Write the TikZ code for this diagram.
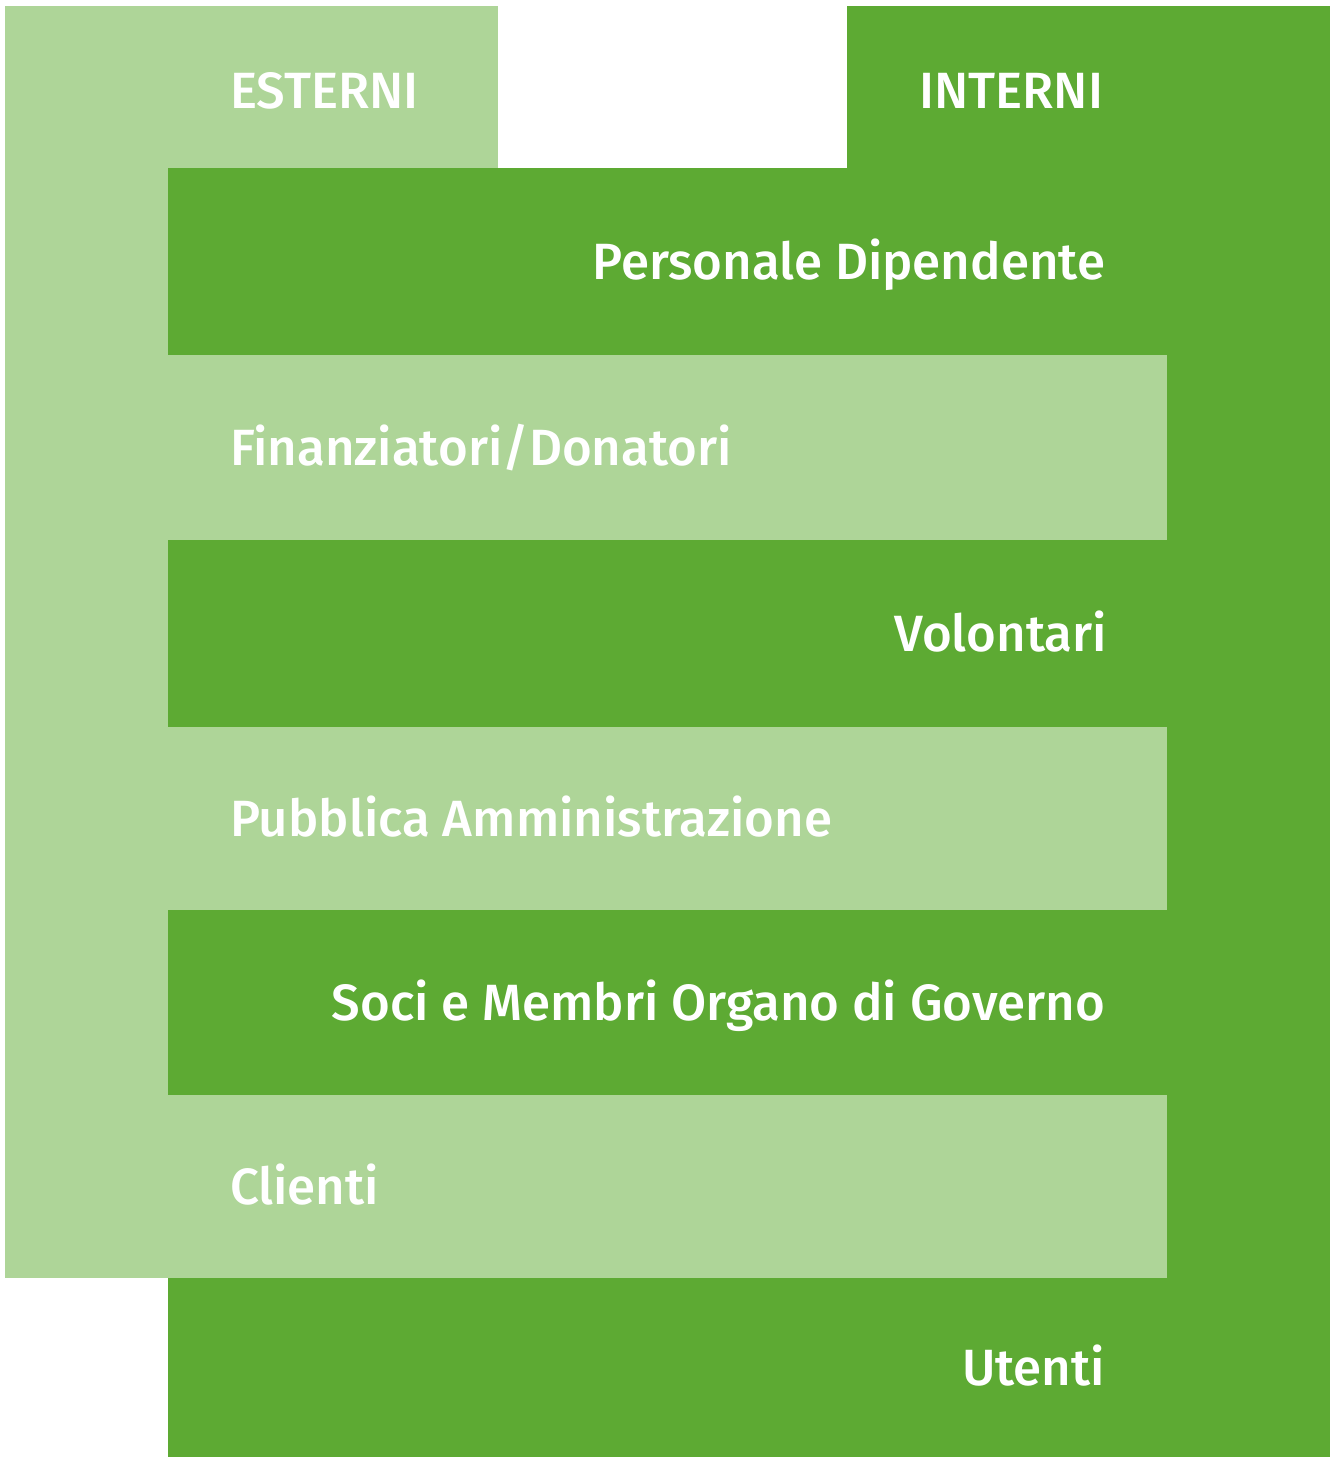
\documentclass[tikz,border=0pt]{standalone}
\usepackage{fontspec}
\setmainfont{Fira Sans}[UprightFont=* Medium]
\usetikzlibrary{positioning}
\definecolor{verdechiaro}{HTML}{AED598}
\definecolor{verdescuro}{HTML}{5DAA33}

\begin{document}
\begin{tikzpicture}[x=0.5pt,y=-0.5pt,
    every node/.style={inner sep=0pt,outer sep=0pt},
    blocco/.style={draw=none,anchor=north west},
    chiaro/.style={blocco,fill=verdechiaro,minimum width=499.5pt},
    scuro/.style={blocco,fill=verdescuro,minimum width=581pt},
    etichetta/.style={text=white,font=\fontsize{25.5}{31}\selectfont,text height=18pt,text depth=0pt}]
    \useasboundingbox (0,0) rectangle (1332,1457);

    % colonne laterali: esterni a sinistra, interni a destra
    \node[blocco,fill=verdechiaro,minimum width=246.5pt,minimum height=81pt] (tabesterni) at (5,6) {};
    \node[blocco,fill=verdechiaro,minimum width=81.5pt,minimum height=636pt] (colesterni) at (5,6) {};
    \node[blocco,fill=verdescuro,minimum width=241.5pt,minimum height=725.5pt] (colinterni) at (847,6) {};

    \node[etichetta,anchor=west] (esterni) at ([xshift=112.5pt,yshift=-1.5pt]tabesterni.west) {ESTERNI};
    \node[etichetta,anchor=east] (interni) at (1103,90) {INTERNI};

    % fasce degli stakeholder, una sotto l'altra
    \node[scuro,minimum height=93.5pt] (personale) at (168,168) {};
    \node[chiaro,minimum height=92.5pt,below=0pt of personale.south west,anchor=north west] (finanziatori) {};
    \node[scuro,minimum height=93.5pt,below=0pt of finanziatori.south west,anchor=north west] (volontari) {};
    \node[chiaro,minimum height=91.5pt,below=0pt of volontari.south west,anchor=north west] (pa) {};
    \node[scuro,minimum height=92.5pt,below=0pt of pa.south west,anchor=north west] (soci) {};
    \node[chiaro,minimum height=91.5pt,below=0pt of soci.south west,anchor=north west] (clienti) {};
    \node[scuro,minimum height=89.5pt,below=0pt of clienti.south west,anchor=north west] (utenti) {};

    \node[etichetta,anchor=east] (tpersonale) at ([xshift=-112.5pt]personale.east) {Personale Dipendente};
    \node[etichetta,anchor=west] (tfinanziatori) at ([xshift=31pt]finanziatori.west) {Finanziatori/Donatori};
    \node[etichetta,anchor=east] (tvolontari) at ([xshift=-111.5pt]volontari.east) {Volontari};
    \node[etichetta,anchor=west] (tpa) at ([xshift=31pt]pa.west) {Pubblica Amministrazione};
    \node[etichetta,anchor=east] (tsoci) at ([xshift=-112.5pt]soci.east) {Soci e Membri Organo di Governo};
    \node[etichetta,anchor=west] (tclienti) at ([xshift=31pt]clienti.west) {Clienti};
    \node[etichetta,anchor=east] (tutenti) at ([xshift=-112.5pt]utenti.east) {Utenti};
\end{tikzpicture}
\end{document}
